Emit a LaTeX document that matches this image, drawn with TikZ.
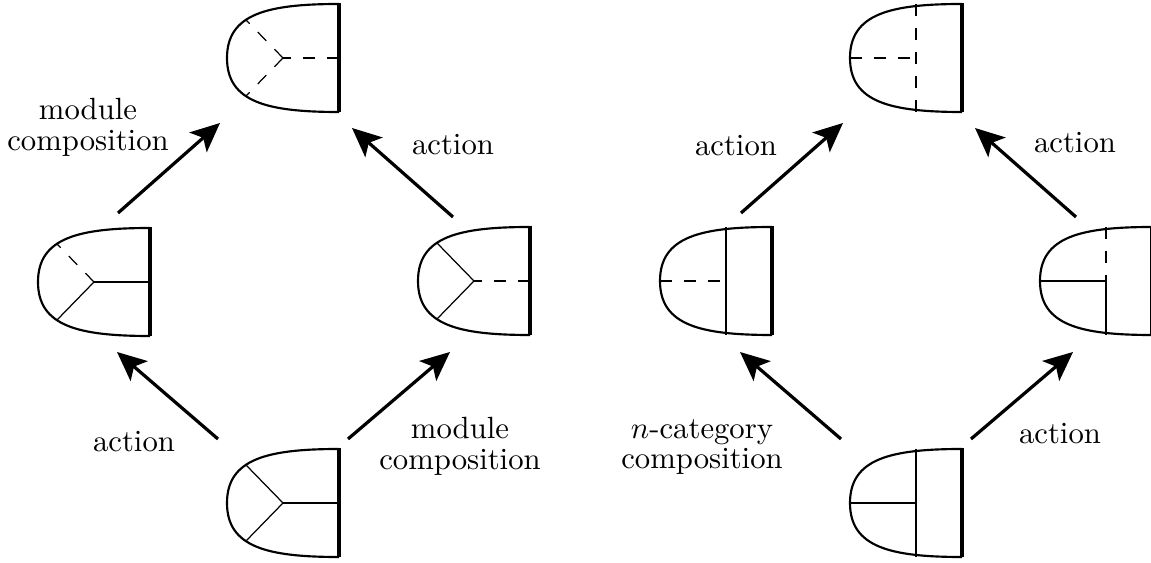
\documentclass[tikz,border=0pt]{standalone}
\usetikzlibrary{arrows.meta}
\tikzset{
  outline/.style={line width=0.7pt},
  redge/.style={line width=1.4pt},
  innerline/.style={line width=0.4pt},
  dsh/.style={dash pattern=on 4pt off 3.8pt},
  sld/.style={},
  arr/.style={line width=1.05pt,-{Stealth[length=9.5pt,width=8.5pt,inset=2.2pt]}},
  lbl/.style={font=\fontsize{10}{10}\selectfont, align=center, inner sep=0pt}
}
\newcommand\blobframe{%
  \draw[outline] (112,-54) .. controls (40,-54) and (0,-44) .. (0,0) .. controls (0,44) and (40,54) .. (112,54);
  \draw[redge] (112,-54.5) -- (112,54.5);}
% #1 name, #2 position, #3 upper branch, #4 lower branch, #5 horizontal
\newcommand\leftblob[5]{%
  \begin{scope}[shift={#2}]
    \blobframe
    \coordinate (#1) at (56,0);
    \coordinate (#1u) at (19,-38);
    \coordinate (#1l) at (19,38);
    \coordinate (#1r) at (112,0);
    \draw[innerline,#3] (#1) -- (#1u);
    \draw[innerline,#4] (#1) -- (#1l);
    \draw[innerline,#5] (#1r) -- (#1);
  \end{scope}}
% #1 name, #2 position, #3 vertical upper, #4 vertical lower, #5 horizontal
\newcommand\rightblob[5]{%
  \begin{scope}[shift={#2}]
    \blobframe
    \coordinate (#1) at (66,0);
    \coordinate (#1t) at (66,-54);
    \coordinate (#1b) at (66,54);
    \coordinate (#1w) at (0,0);
    \draw[innerline,#3] (#1t) -- (#1);
    \draw[innerline,#4] (#1b) -- (#1);
    \draw[innerline,#5] (#1w) -- (#1);
  \end{scope}}
\begin{document}
\begin{tikzpicture}[x=0.3257pt,y=-0.3257pt]
\useasboundingbox (0,0) rectangle (1151,563);
\clip (0,0) rectangle (1151,563);
% left diagram
\leftblob{LT}{(227,58)}{dsh}{dsh}{dsh}
\leftblob{LL}{(38,282)}{dsh}{sld}{sld}
\leftblob{LR}{(418,281)}{sld}{sld}{dsh}
\leftblob{LB}{(227,503)}{sld}{sld}{sld}
% right diagram
\rightblob{RT}{(850,58)}{dsh}{dsh}{dsh}
\rightblob{RL}{(660,281)}{sld}{sld}{dsh}
\rightblob{RR}{(1040,281)}{dsh}{sld}{sld}
\rightblob{RB}{(850,503)}{sld}{sld}{sld}
% arrow end points
\coordinate (la1s) at (118,213); \coordinate (la1e) at (220,123);
\coordinate (la2s) at (453,217); \coordinate (la2e) at (352,128);
\coordinate (la3s) at (218,439); \coordinate (la3e) at (117,352);
\coordinate (la4s) at (348,439); \coordinate (la4e) at (450,352);
\coordinate (ra1s) at (741,213); \coordinate (ra1e) at (843,123);
\coordinate (ra2s) at (1076,217); \coordinate (ra2e) at (975,128);
\coordinate (ra3s) at (841,439); \coordinate (ra3e) at (740,352);
\coordinate (ra4s) at (971,439); \coordinate (ra4e) at (1073,352);
\draw[arr] (la1s) -- (la1e);
\draw[arr] (la2s) -- (la2e);
\draw[arr] (la3s) -- (la3e);
\draw[arr] (la4s) -- (la4e);
\draw[arr] (ra1s) -- (ra1e);
\draw[arr] (ra2s) -- (ra2e);
\draw[arr] (ra3s) -- (ra3e);
\draw[arr] (ra4s) -- (ra4e);
% labels
\node[lbl] (t1) at (88,127) {module\\composition};
\node[lbl,anchor=base] (t2) at (453,155) {action};
\node[lbl,anchor=base] (t3) at (134,452) {action};
\node[lbl] (t4) at (460,446) {module\\composition};
\node[lbl,anchor=base] (t5) at (736,156) {action};
\node[lbl,anchor=base] (t6) at (1075,153) {action};
\node[lbl] (t7) at (702,447) {$n$-category\\composition};
\node[lbl,anchor=base] (t8) at (1060,444) {action};
\end{tikzpicture}
\end{document}
